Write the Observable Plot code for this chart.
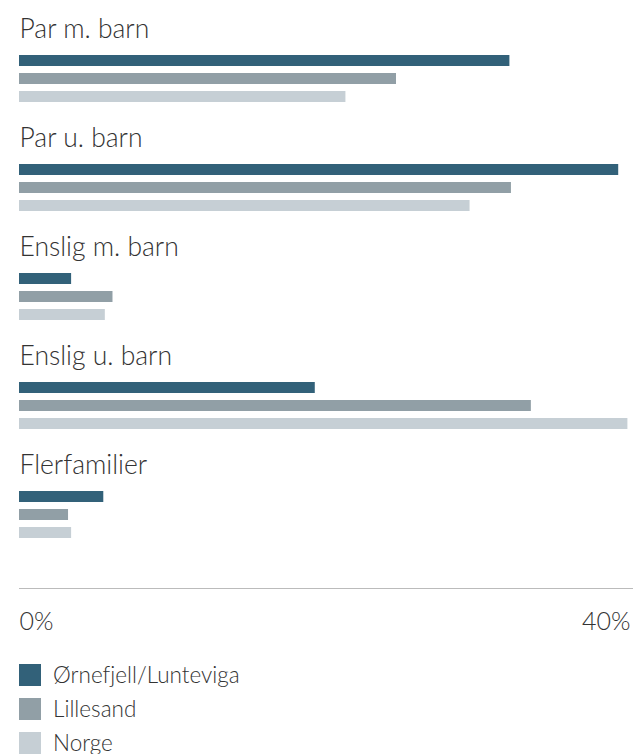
<!DOCTYPE html>
<html><head><meta charset="utf-8">
<script src="https://cdn.jsdelivr.net/npm/d3@7"></script>
<script src="https://cdn.jsdelivr.net/npm/@observablehq/plot@0.6"></script>
<style>
body{margin:0;background:#fff;font-family:Lato,"Open Sans","Liberation Sans",sans-serif;font-weight:300;color:#333;font-variant-ligatures:none}
#chart svg{display:block}
#chart svg text{font-variant-ligatures:none}
.legend{margin-left:19px;margin-top:14px}
.item{display:flex;align-items:center;height:22px;line-height:22px;margin-bottom:12px;font-size:22.5px}
.sw{width:22px;height:22px;margin-right:12px;flex:none}
</style></head><body>
<div id="chart"></div>
<div class="legend" id="legend"></div>
<script>
const categories = ["Par m. barn", "Par u. barn", "Enslig m. barn", "Enslig u. barn", "Flerfamilier"];
const seriesNames = ["Ørnefjell/Lunteviga", "Lillesand", "Norge"];
const ornefjell = [32.0, 39.1, 3.4, 19.3, 5.5];
const lillesand = [24.6, 32.1, 6.1, 33.4, 3.2];
const norge = [21.3, 29.4, 5.6, 39.7, 3.4];
const colors = ["#326179", "#919fa6", "#c6cfd5"];
const xTicks = [0, 40];

const seriesValues = [ornefjell, lillesand, norge];
const data = categories.flatMap((c, i) =>
  seriesNames.map((s, j) => ({category: c, series: s, value: seriesValues[j][i]})));

const font = "Lato, 'Open Sans', 'Liberation Sans', sans-serif";
const chart = Plot.plot({
  width: 633, height: 650,
  marginLeft: 19, marginRight: 1, marginTop: 0, marginBottom: 58,
  x: {domain: [0, 40], axis: null},
  y: {domain: seriesNames, axis: null, padding: 0.4},
  fy: {domain: categories, axis: null, paddingInner: 0.409, paddingOuter: 0.409},
  color: {domain: seriesNames, range: colors},
  style: {fontFamily: font, background: "white"},
  marks: [
    Plot.barX(data, {x: "value", y: "series", fy: "category", fill: "series"}),
    Plot.text(categories, {fy: d => d, text: d => d, frameAnchor: "top-left", textAnchor: "start",
      lineAnchor: "bottom", dy: -8.7, fontSize: 26.5, fontWeight: 300, fill: "#333"}),
    Plot.frame({anchor: "bottom", facetAnchor: "bottom", dy: 42, stroke: "#bbb"}),
    Plot.text([xTicks[0]], {x: d => d, text: d => d + "%", frameAnchor: "bottom", textAnchor: "start",
      lineAnchor: "bottom", facetAnchor: "bottom", dy: 83, fontSize: 25, fontWeight: 300, fill: "#333"}),
    Plot.text([xTicks[1]], {x: d => d, text: d => d + "%", frameAnchor: "bottom", textAnchor: "end",
      lineAnchor: "bottom", facetAnchor: "bottom", dx: -2, dy: 83, fontSize: 25, fontWeight: 300, fill: "#333"})
  ]
});
document.getElementById("chart").appendChild(chart);

const legend = document.getElementById("legend");
seriesNames.forEach((s, i) => {
  const row = document.createElement("div");
  row.className = "item";
  const sw = document.createElement("div");
  sw.className = "sw";
  sw.style.background = colors[i];
  const label = document.createElement("span");
  label.textContent = s;
  row.appendChild(sw);
  row.appendChild(label);
  legend.appendChild(row);
});
</script>
</body></html>
